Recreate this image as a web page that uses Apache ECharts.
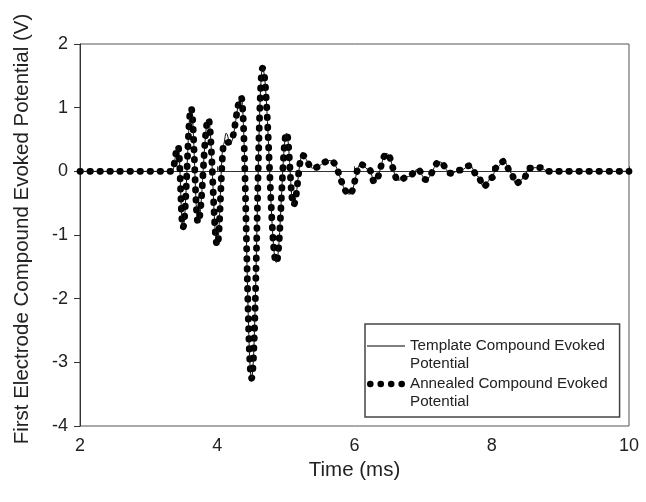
<!DOCTYPE html>
<html>
<head>
<meta charset="utf-8">
<script src="https://cdn.jsdelivr.net/npm/echarts@6/dist/echarts.min.js"></script>
<style>
html,body{margin:0;padding:0;background:#fff;}
#chart{width:646px;height:502px;}
</style>
</head>
<body>
<div id="chart"></div>
<script>
const xTicks = [2, 4, 6, 8, 10];
const yTicks = [-4, -3, -2, -1, 0, 1, 2];

const templateTime = [2, 3.34, 3.43, 3.50, 3.62, 3.72, 3.87, 4.00, 4.09, 4.13, 4.19, 4.35, 4.50, 4.66, 4.86, 5.01, 5.11, 5.24, 5.39, 5.65, 5.93, 6.09, 6.22, 6.29, 6.47, 6.64, 6.79, 6.92, 7.04, 7.24, 7.40, 7.55, 7.68, 7.80, 7.88, 8.00, 8.07, 8.18, 8.28, 8.35, 8.47, 8.54, 8.69, 8.83, 10];
const templateV =    [0, 0,    0.39, -0.88, 0.99, -0.80, 0.82, -1.16, 0.42, 0.60, 0.44, 1.16, -3.25, 1.62, -1.43, 0.60, -0.53, 0.25, 0.05, 0.17, -0.36, 0.11, 0.02, -0.17, 0.28, -0.14, -0.08, 0.03, -0.13, 0.15, -0.03, 0.02, 0.09, -0.08, -0.24, -0.10, 0.06, 0.16, -0.02, -0.19, -0.11, 0.05, 0.06, 0, 0];

const annealedTime = [2, 3.34, 3.43, 3.50, 3.62, 3.72, 3.87, 4.00, 4.10, 4.19, 4.35, 4.50, 4.66, 4.86, 5.01, 5.11, 5.24, 5.39, 5.65, 5.93, 6.09, 6.22, 6.29, 6.47, 6.64, 6.79, 6.92, 7.04, 7.24, 7.40, 7.55, 7.68, 7.80, 7.88, 8.00, 8.07, 8.18, 8.28, 8.35, 8.47, 8.54, 8.69, 8.83, 10];
const annealedV =    [0, 0,    0.39, -0.88, 0.99, -0.80, 0.82, -1.16, 0.44, 0.46, 1.16, -3.25, 1.62, -1.43, 0.60, -0.53, 0.25, 0.05, 0.17, -0.36, 0.11, 0.02, -0.17, 0.28, -0.14, -0.08, 0.03, -0.13, 0.15, -0.03, 0.02, 0.09, -0.08, -0.24, -0.10, 0.06, 0.16, -0.02, -0.19, -0.11, 0.05, 0.06, 0, 0];

const seriesNames = ['Template Compound Evoked Potential', 'Annealed Compound Evoked Potential'];
const legendLabels = ['Template Compound Evoked\nPotential', 'Annealed Compound Evoked\nPotential'];

const zip = (a, b) => a.map((v, i) => [v, b[i]]);

const font = 'Liberation Sans, Arial, sans-serif';
const chart = echarts.init(document.getElementById('chart'), null, {renderer: 'canvas'});

const lineIcon = 'path://M0,8.5h38v1h-38z M0,0h0.01v0.01h-0.01z M37.99,35.99h0.01v0.01h-0.01z';
const dotIcon = 'path://M0,9a3.3,3.3 0 1,0 6.6,0a3.3,3.3 0 1,0 -6.6,0z M10.45,9a3.3,3.3 0 1,0 6.6,0a3.3,3.3 0 1,0 -6.6,0z M20.9,9a3.3,3.3 0 1,0 6.6,0a3.3,3.3 0 1,0 -6.6,0z M31.4,9a3.3,3.3 0 1,0 6.6,0a3.3,3.3 0 1,0 -6.6,0z M0,0h0.01v0.01h-0.01z M37.99,35.99h0.01v0.01h-0.01z';

chart.setOption({
  animation: false,
  backgroundColor: '#fff',
  grid: {left: 80, right: 17, top: 44, bottom: 76, show: true, borderColor: '#555', borderWidth: 1, backgroundColor: 'transparent'},
  xAxis: {
    type: 'value', min: xTicks[0], max: xTicks[xTicks.length - 1], interval: 2,
    name: 'Time (ms)', nameLocation: 'middle', nameGap: 33,
    nameTextStyle: {fontFamily: font, fontSize: 20.5, color: '#222'},
    axisLine: {show: true, lineStyle: {color: '#333', width: 1}},
    axisTick: {show: true, inside: true, length: 5, lineStyle: {color: '#333'}},
    axisLabel: {fontFamily: font, fontSize: 18, color: '#222', margin: 11},
    splitLine: {show: false}
  },
  yAxis: {
    type: 'value', min: yTicks[0], max: yTicks[yTicks.length - 1], interval: 1,
    name: 'First Electrode Compound Evoked Potential (V)', nameLocation: 'middle', nameGap: 47,
    nameTextStyle: {fontFamily: font, fontSize: 20.5, color: '#222', padding: [0, 0, 0, 12]},
    axisLine: {show: true, lineStyle: {color: '#333', width: 1}},
    axisTick: {show: true, inside: false, length: 6, lineStyle: {color: '#333'}},
    axisLabel: {fontFamily: font, fontSize: 18, color: '#222', margin: 12},
    splitLine: {show: false}
  },
  legend: {
    orient: 'vertical', left: 365, top: 324,
    backgroundColor: '#fff', borderColor: '#444', borderWidth: 1.5, borderRadius: 0,
    padding: [13, 12, 6, 2],
    itemWidth: 38, itemHeight: 36, itemGap: 2, itemTextGap: 12,
    itemStyle: {borderWidth: 0},
    selectedMode: false,
    textStyle: {fontFamily: font, fontSize: 15.2, color: '#222', lineHeight: 18},
    formatter: name => legendLabels[seriesNames.indexOf(name)],
    data: [{name: seriesNames[0], icon: lineIcon}, {name: seriesNames[1], icon: dotIcon}]
  },
  series: [
    {
      name: seriesNames[1], type: 'line', data: zip(annealedTime, annealedV),
      showSymbol: false, smooth: 0.4, smoothMonotone: 'x',
      color: '#000', itemStyle: {color: '#000'},
      lineStyle: {color: '#000', width: 6.8, type: [0.5, 9.5], cap: 'round'},
      z: 2
    },
    {
      name: seriesNames[0], type: 'line', data: zip(templateTime, templateV),
      showSymbol: false, smooth: 0.4, smoothMonotone: 'x',
      color: '#000', itemStyle: {color: '#000'},
      lineStyle: {color: '#111', width: 1},
      z: 3
    }
  ]
});
</script>
</body>
</html>
